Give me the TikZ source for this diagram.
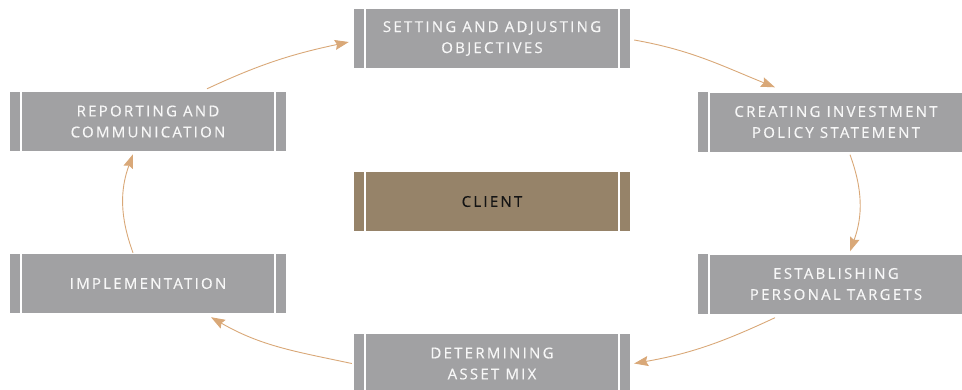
\documentclass[tikz,border=0pt]{standalone}
\usepackage{fontspec}
\setmainfont{Open Sans}[LetterSpace=15,FakeBold=0.4]
\usetikzlibrary{arrows.meta,calc}
\definecolor{boxgray}{HTML}{A1A1A3}
\definecolor{clientbrown}{HTML}{968369}
\definecolor{arrowtan}{HTML}{D9A878}
\definecolor{boxtext}{HTML}{F7F7F7}
\definecolor{clienttext}{HTML}{141414}
\tikzset{
  stagebox/.style={rectangle, inner sep=0pt, minimum width=252pt, minimum height=59pt,
    align=center, text=boxtext, font=\fontsize{15}{21}\selectfont},
  flow/.style={draw=arrowtan, line width=0.9pt,
    -{Stealth[length=14pt,width=10pt,inset=2pt]}},
}
\newcommand\stage[5]{%
  \node[stagebox, fill=#4] (#1) at (#2,-#3) {#5};
  \fill[#4] ([xshift=-12pt]#1.north west) rectangle ([xshift=-2pt]#1.south west);
  \fill[#4] ([xshift=2pt]#1.north east) rectangle ([xshift=12pt]#1.south east);
}
\begin{document}
\begin{tikzpicture}[x=1pt,y=1pt]
\useasboundingbox (0,0) rectangle (962,-389);
\clip (0,0) rectangle (962,-389);
\stage{set}{492}{38.5}{boxgray}{SETTING AND ADJUSTING\\OBJECTIVES}
\stage{cre}{836}{122}{boxgray}{CREATING INVESTMENT\\POLICY STATEMENT}
\stage{est}{836}{284}{boxgray}{ESTABLISHING\\PERSONAL TARGETS}
\stage{det}{492}{363.5}{boxgray}{DETERMINING\\ASSET MIX}
\stage{imp}{148}{283.5}{boxgray}{IMPLEMENTATION}
\stage{rep}{148}{121.5}{boxgray}{REPORTING AND\\COMMUNICATION}
\stage{cli}{492}{201.5}{clientbrown}{\textcolor{clienttext}{CLIENT}}
% connectors
\draw[flow] ([xshift=59pt,yshift=3pt]rep.north) to[out=25,in=192] ([xshift=-17pt,yshift=-3.5pt]set.west);
\draw[flow] ([xshift=16pt,yshift=-1.5pt]set.east) to[out=-10,in=158] ([xshift=-61pt,yshift=5pt]cre.north);
\draw[flow] ([xshift=14pt,yshift=-3pt]cre.south) to[out=-70,in=70] ([xshift=14pt,yshift=3pt]est.north);
\draw[flow] ([xshift=-61pt,yshift=-4pt]est.south) to[out=-155,in=10] ([xshift=16pt]det.east);
\draw[flow] ([xshift=-14pt]det.west) to[out=168,in=-30] ([xshift=63pt,yshift=-4pt]imp.south);
\draw[flow] ([xshift=-15pt,yshift=1pt]imp.north) to[out=110,in=-110] ([xshift=-15pt,yshift=-3pt]rep.south);
\end{tikzpicture}
\end{document}
